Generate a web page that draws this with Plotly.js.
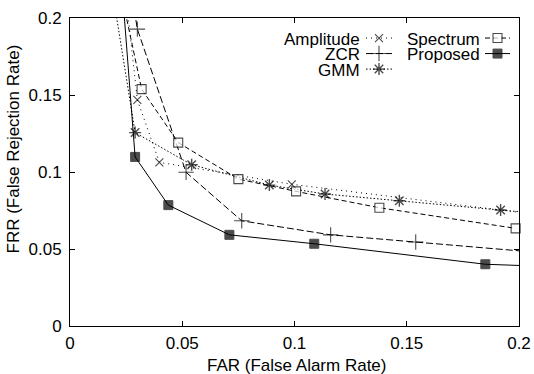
<!DOCTYPE html>
<html>
<head>
<meta charset="utf-8">
<script src="https://cdn.plot.ly/plotly-3.0.1.min.js"></script>
<style>html,body{margin:0;padding:0;background:#fff}</style>
</head>
<body>
<div id="chart" style="width:534px;height:374px"></div>
<script>
// ---- data (FAR = x, FRR = y) ----
const amplitudeFAR = [0.0222, 0.0300, 0.0398, 0.0988, 0.23];
const amplitudeFRR = [0.25, 0.1468, 0.1063, 0.0920, 0.0685];

const zcrFAR = [0.0238, 0.0300, 0.0517, 0.0765, 0.1161, 0.1540, 0.23];
const zcrFRR = [0.25, 0.1928, 0.0998, 0.0683, 0.0592, 0.0545, 0.0451];

const gmmFAR = [0.0153, 0.0290, 0.0542, 0.0888, 0.1136, 0.1467, 0.1918, 0.23];
const gmmFRR = [0.25, 0.1256, 0.1047, 0.0915, 0.0857, 0.0813, 0.0753, 0.0702];

const spectrumFAR = [0.0179, 0.0319, 0.0482, 0.0750, 0.1007, 0.1378, 0.1985];
const spectrumFRR = [0.25, 0.1538, 0.1191, 0.0954, 0.0874, 0.0768, 0.0634];

const proposedFAR = [0.0216, 0.0290, 0.0438, 0.0710, 0.1088, 0.1850, 0.25];
const proposedFRR = [0.25, 0.1098, 0.0785, 0.0592, 0.0534, 0.0401, 0.0367];

const axisTicks = [0, 0.05, 0.1, 0.15, 0.2];
const seriesNames = ['Amplitude', 'ZCR', 'GMM', 'Spectrum', 'Proposed'];
const xTitle = 'FAR (False Alarm Rate)';
const yTitle = 'FRR (False Rejection Rate)';

// ---- styles ----
const FONT = 'Liberation Sans, Arial, Helvetica, sans-serif';
const styles = {
  Amplitude: {dash: '1px,4px', symbol: 'x-thin', size: 8, color: 'rgba(0,0,0,0)', lw: 1.1},
  ZCR:       {dash: '7px,3px', symbol: 'cross-thin', size: 11, color: 'rgba(0,0,0,0)', lw: 1.1},
  GMM:       {dash: '1.5px,2px', symbol: 'asterisk', size: 10, color: 'rgba(0,0,0,0)', lw: 1.4},
  Spectrum:  {dash: '5px,3px', symbol: 'square', size: 9, color: '#fff', lw: 1.1},
  Proposed:  {dash: 'solid', symbol: 'square', size: 9, color: '#000', lw: 1}
};
const dataMap = {
  Amplitude: [amplitudeFAR, amplitudeFRR],
  ZCR: [zcrFAR, zcrFRR],
  GMM: [gmmFAR, gmmFRR],
  Spectrum: [spectrumFAR, spectrumFRR],
  Proposed: [proposedFAR, proposedFRR]
};

const XMAX = 0.2, YMAX = 0.2;
const traces = [];
seriesNames.forEach(name => {
  const s = styles[name];
  const [xs, ys] = dataMap[name];
  const sizes = xs.map((x, i) => (ys[i] <= YMAX + 1e-9 && x <= XMAX + 1e-9) ? s.size : 0);
  traces.push({
    type: 'scatter', mode: 'lines+markers', x: xs, y: ys, name: name,
    showlegend: false, cliponaxis: name === 'Spectrum' ? false : true,
    line: {color: '#000', width: 1, dash: s.dash},
    marker: {symbol: s.symbol, size: sizes, color: s.color,
             line: {color: '#000', width: s.lw}}
  });
});

// ---- manual gnuplot-style key (text then sample) ----
// plot area in px: x 70..519, y 18.3..325.7
const PX0 = 70, PX1 = 519, PY0 = 325.7, PY1 = 18.3;
const fx = px => (px - PX0) / (PX1 - PX0);
const fy = py => (PY0 - py) / (PY0 - PY1);
const keyCols = [{textRight: 362, s0: 366, s1: 392},
                 {textRight: 482, s0: 485, s1: 510}];
const keyRows = [38.3, 53.8, 69.3];
const keyLayout = {Amplitude: [0, 0], ZCR: [0, 1], GMM: [0, 2], Spectrum: [1, 0], Proposed: [1, 1]};
const annotations = [];
seriesNames.forEach(name => {
  const s = styles[name];
  const [c, r] = keyLayout[name];
  const col = keyCols[c], py = keyRows[r];
  annotations.push({
    text: name, xref: 'paper', yref: 'paper', x: fx(col.textRight), y: fy(py + 1),
    xanchor: 'right', yanchor: 'middle', showarrow: false,
    font: {family: FONT, size: 17, color: '#000'}
  });
  const xm = (col.s0 + col.s1) / 2;
  traces.push({
    type: 'scatter', mode: 'lines+markers', xaxis: 'x2', yaxis: 'y2', showlegend: false,
    hoverinfo: 'skip', cliponaxis: false,
    x: [fx(col.s0), fx(xm), fx(col.s1)], y: [fy(py), fy(py), fy(py)],
    line: {color: '#000', width: 1, dash: s.dash},
    marker: {symbol: s.symbol, size: [0, s.size, 0], color: s.color,
             line: {color: '#000', width: s.lw}}
  });
});

// axis titles
annotations.push({
  text: xTitle, xref: 'paper', yref: 'paper', x: fx(297), y: fy(365),
  xanchor: 'center', yanchor: 'middle', showarrow: false,
  font: {family: FONT, size: 17, color: '#000'}
});
annotations.push({
  text: yTitle, xref: 'paper', yref: 'paper', x: fx(13.5), y: fy(149),
  xanchor: 'center', yanchor: 'middle', showarrow: false, textangle: -90,
  font: {family: FONT, size: 17, color: '#000'}
});

const axisCommon = {
  range: [0, 0.2], tickvals: axisTicks, ticks: 'inside', ticklen: 5, tickwidth: 1,
  tickcolor: '#000', showline: true, linecolor: '#000', linewidth: 1, mirror: 'ticks',
  showgrid: false, zeroline: false, tickfont: {family: FONT, size: 17, color: '#000'}
};

const layout = {
  width: 534, height: 374,
  margin: {l: PX0, r: 534 - PX1, t: PY1, b: 374 - PY0},
  paper_bgcolor: '#fff', plot_bgcolor: '#fff',
  showlegend: false,
  font: {family: FONT, size: 17, color: '#000'},
  xaxis: Object.assign({}, axisCommon, {ticklabelstandoff: 2}),
  yaxis: Object.assign({}, axisCommon, {ticklabelstandoff: 4}),
  xaxis2: {overlaying: 'x', anchor: 'y2', range: [0, 1], visible: false},
  yaxis2: {overlaying: 'y', anchor: 'x2', range: [0, 1], visible: false},
  annotations: annotations
};

Plotly.newPlot('chart', traces, layout, {staticPlot: true, displayModeBar: false});
</script>
</body>
</html>
